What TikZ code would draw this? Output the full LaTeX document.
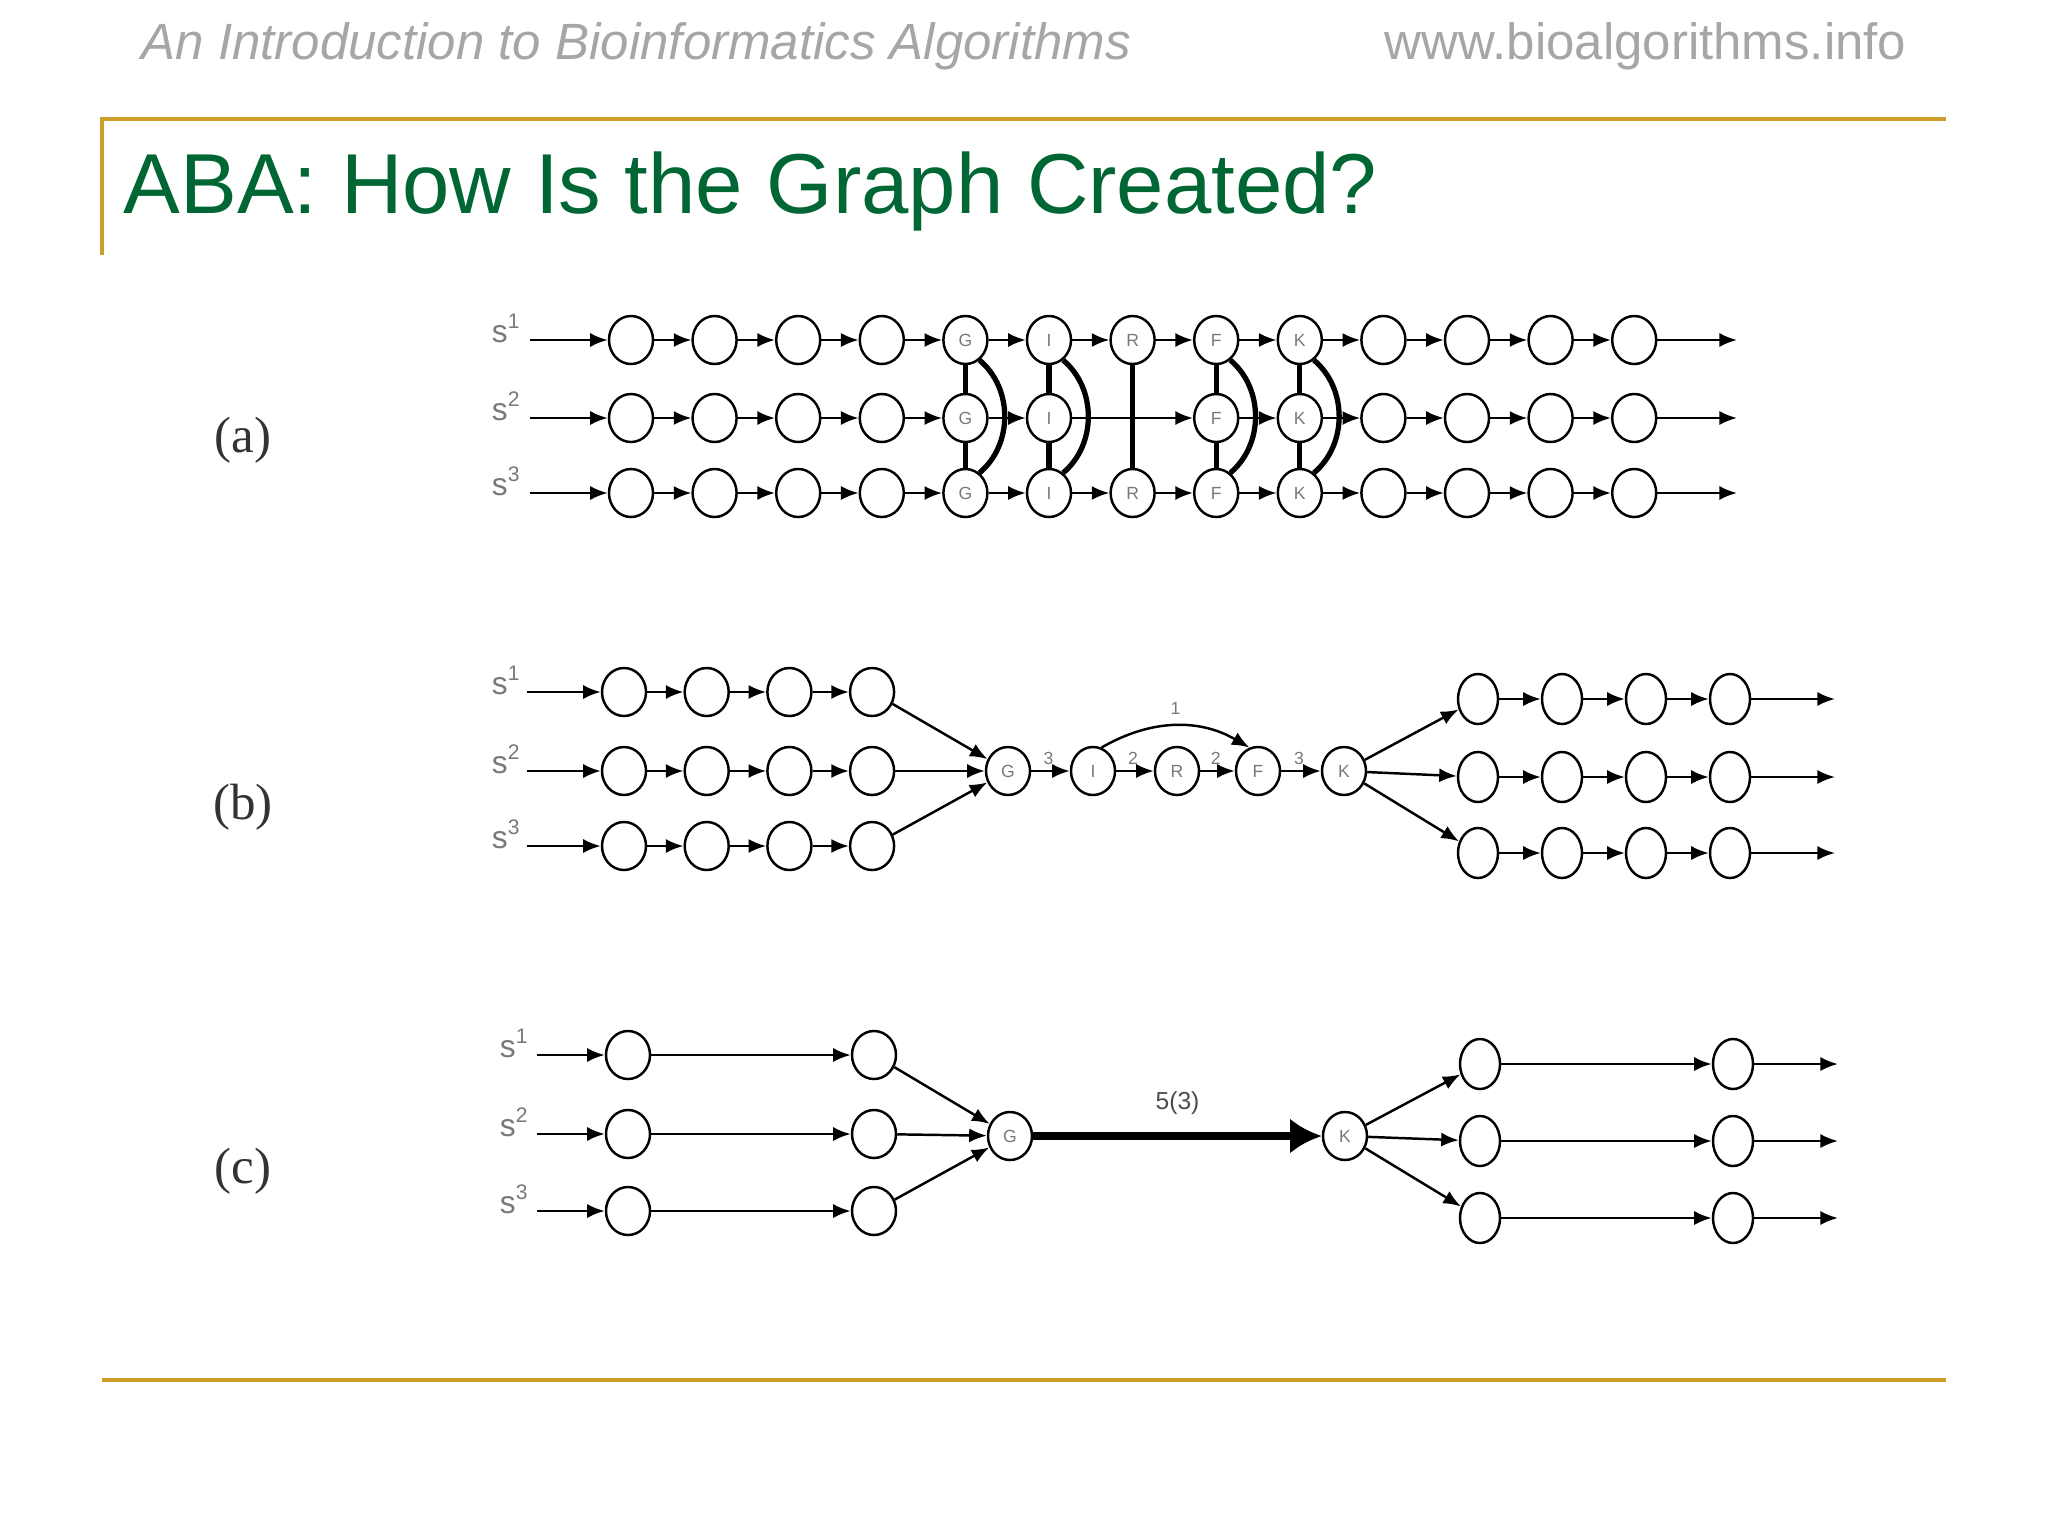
\documentclass[tikz,border=0pt]{standalone}
\usepackage{fontspec}
\setmainfont{Liberation Sans}
\newfontfamily\panelfont{Liberation Serif}
\usepackage{tikz}
\usetikzlibrary{positioning}
\usetikzlibrary{arrows.meta,shapes.geometric}

\definecolor{slidegold}{RGB}{204,158,40}
\definecolor{slidegreen}{RGB}{0,102,51}
\definecolor{headgray}{RGB}{166,166,166}
\definecolor{letgray}{RGB}{120,120,120}

\begin{document}
\begin{tikzpicture}[x=0.01cm,y=-0.01cm,
  resnode/.style={draw,ellipse,line width=0.7pt,minimum width=0.44cm,minimum height=0.48cm,inner sep=0pt,font=\fontsize{5}{5}\selectfont,text=letgray},
  resnarrow/.style={resnode,minimum width=0.40cm,minimum height=0.50cm},
  seqlab/.style={font=\fontsize{9}{9}\selectfont,text=letgray,anchor=base east,inner sep=0pt},
  seqarrow/.style={line width=0.7pt,-{Latex[length=5pt,width=4pt]}},
  matchline/.style={line width=1.5pt},
  multlab/.style={font=\fontsize{5}{5}\selectfont,text=letgray,above=1.5pt,inner sep=0pt,pos=0.45},
  heavy/.style={line width=2.3pt,-{Latex[length=9pt,width=10pt]}},
  panel/.style={font=\panelfont\fontsize{14.5}{14.5}\selectfont,text=black!80}]
\useasboundingbox (0,0) rectangle (2048,1536);

% header and title
\node[anchor=base west,inner sep=0pt,font=\fontsize{14.5}{14.5}\selectfont\itshape,text=headgray] (book) at (141,59) {An Introduction to Bioinformatics Algorithms};
\node[anchor=base east,inner sep=0pt,font=\fontsize{14.5}{14.5}\selectfont,text=headgray] (site) at (1907,59) {www.bioalgorithms.info};
\draw[slidegold,line width=1.1pt] (102,255) -- (102,119) -- (1946,119);
\draw[slidegold,line width=1.1pt] (102,1380) -- (1946,1380);
\node[anchor=base west,inner sep=0pt,font=\fontsize{24.2}{24.2}\selectfont,text=slidegreen] (title) at (123,213) {ABA: How Is the Graph Created?};

\node[panel] (pa) at (243,440) {(a)};
\node[panel] (pb) at (243,807) {(b)};
\node[panel] (pc) at (243,1171) {(c)};

% (a) three sequences with matched positions
\foreach \r/\y in {1/340,2/418,3/493} {
  \node[seqlab] (sa\r) at (522,\y+2) {s\textsuperscript{\r}};
  \coordinate (ain\r) at (530,\y);
  \coordinate (aout\r) at (1737,\y);
  \foreach \c/\t in {1/{},2/{},3/{},4/{},5/G,6/I,7/R,8/F,9/K,10/{},11/{},12/{},13/{}} {
    \ifnum\r\c=27 \else \node[resnode] (a\r-\c) at ({631+(\c-1)*83.6},\y) {\t}; \fi
  }
}
\foreach \r in {1,2,3}
  \path[seqarrow] (ain\r) edge (a\r-1) (a\r-13) edge (aout\r);
\foreach \r in {1,3}
  \foreach \c [count=\n from 2] in {1,...,12}
    \path[seqarrow] (a\r-\c) edge (a\r-\n);
\foreach \c/\n in {1/2,2/3,3/4,4/5,5/6,6/8,8/9,9/10,10/11,11/12,12/13}
  \path[seqarrow] (a2-\c) edge (a2-\n);
\foreach \c in {5,6,8,9}
  \path[matchline] (a1-\c) edge (a2-\c) (a2-\c) edge (a3-\c)
    (a1-\c.-55) edge[bend left=50] (a3-\c.55);
\path[matchline] (a1-7) edge (a3-7);

% (b) glued path G I R F K
\foreach \r/\y in {1/692,2/771,3/846} {
  \node[seqlab] (sb\r) at (522,\y+2) {s\textsuperscript{\r}};
  \coordinate (bin\r) at (527,\y);
  \foreach \c in {1,...,4}
    \node[resnode] (bl\r-\c) at ({624+(\c-1)*82.7},\y) {};
}
\foreach \r/\y in {1/699,2/777,3/853} {
  \coordinate (bout\r) at (1835,\y);
  \foreach \c in {1,...,4}
    \node[resnarrow] (br\r-\c) at ({1478+(\c-1)*84},\y) {};
}
\foreach \n/\x in {G/1008,I/1093,R/1177,F/1258,K/1344}
  \node[resnode] (b\n) at (\x,771) {\n};
\foreach \r in {1,2,3}
  \path[seqarrow] (bin\r) edge (bl\r-1) (bl\r-1) edge (bl\r-2) (bl\r-2) edge (bl\r-3)
    (bl\r-3) edge (bl\r-4) (bl\r-4) edge (bG)
    (bK) edge (br\r-1) (br\r-1) edge (br\r-2) (br\r-2) edge (br\r-3)
    (br\r-3) edge (br\r-4) (br\r-4) edge (bout\r);
\path[seqarrow]
  (bG) edge node[multlab] {3} (bI)
  (bI) edge node[multlab] {2} (bR)
  (bR) edge node[multlab] {2} (bF)
  (bF) edge node[multlab] {3} (bK)
  (bI.70) edge[bend left=30] node[multlab,pos=0.5,above=3pt] {1} (bF.110);

% (c) collapsed edge
\foreach \r/\y in {1/1055,2/1134,3/1211} {
  \node[seqlab] (sc\r) at (530,\y+2) {s\textsuperscript{\r}};
  \coordinate (cin\r) at (537,\y);
  \node[resnode] (cl\r-1) at (628,\y) {};
  \node[resnode] (cl\r-2) at (874,\y) {};
}
\foreach \r/\y in {1/1064,2/1141,3/1218} {
  \coordinate (cout\r) at (1838,\y);
  \node[resnarrow] (cr\r-1) at (1480,\y) {};
  \node[resnarrow] (cr\r-2) at (1733,\y) {};
}
\node[resnode] (cG) at (1010,1136) {G};
\node[resnode] (cK) at (1345,1136) {K};
\foreach \r in {1,2,3}
  \path[seqarrow] (cin\r) edge (cl\r-1) (cl\r-1) edge (cl\r-2) (cl\r-2) edge (cG)
    (cK) edge (cr\r-1) (cr\r-1) edge (cr\r-2) (cr\r-2) edge (cout\r);
\path[heavy] (cG) edge node[above=5pt,inner sep=0pt,font=\fontsize{7}{7}\selectfont,text=black!70] {5(3)} (cK);
\end{tikzpicture}
\end{document}
